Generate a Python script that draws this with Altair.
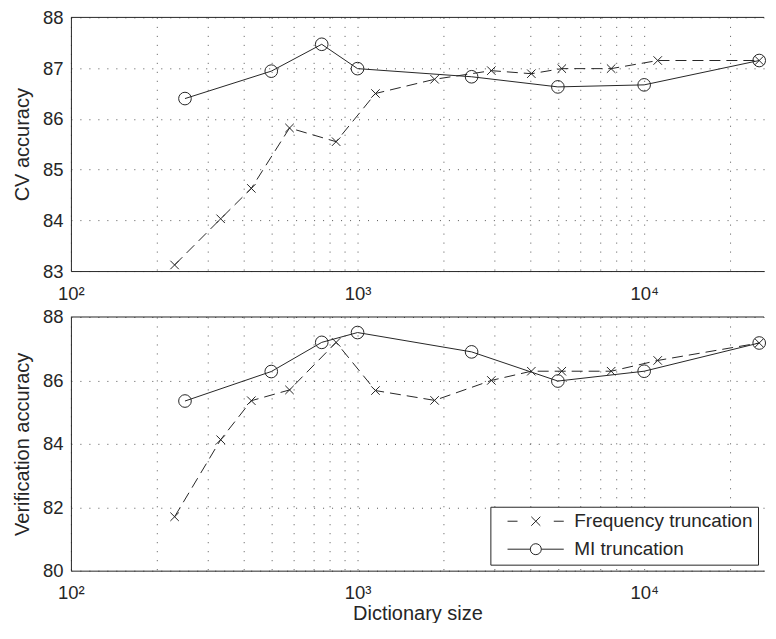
import altair as alt
import pandas as pd

FONT = "Liberation Sans"
INK = "#262626"

# ---- data ----
freq_sizes = [230, 333, 426, 579, 842, 1155, 1857, 2930, 4040, 5160, 7670, 11150, 25200]
mi_sizes = [250, 500, 750, 1000, 2500, 5000, 10000, 25200]

cv_freq = [83.12, 84.03, 84.63, 85.82, 85.55, 86.50, 86.78, 86.95, 86.89, 86.99, 86.99, 87.15, 87.15]
cv_mi = [86.40, 86.94, 87.47, 86.99, 86.83, 86.63, 86.67, 87.15]

ver_freq = [81.70, 84.13, 85.36, 85.70, 87.20, 85.68, 85.37, 86.00, 86.29, 86.29, 86.29, 86.63, 87.18]
ver_mi = [85.35, 86.28, 87.20, 87.51, 86.90, 85.98, 86.29, 87.18]

series_names = ["Frequency truncation", "MI truncation"]
x_limits = [100, 26190]
grid_sizes = [100, 200, 300, 400, 500, 600, 700, 800, 900,
              1000, 2000, 3000, 4000, 5000, 6000, 7000, 8000, 9000,
              10000, 20000]
cv_ticks = [83, 84, 85, 86, 87, 88]
ver_ticks = [80, 82, 84, 86, 88]

# ---- marker / legend symbol shapes ----
X_SHAPE = "M-1,-1L1,1M-1,1L1,-1"


def circle_path(cx, r):
    k = 0.5523 * r
    return (f"M{cx + r},0C{cx + r},{k} {cx + k},{r} {cx},{r}"
            f"C{cx - k},{r} {cx - r},{k} {cx - r},0"
            f"C{cx - r},{-k} {cx - k},{-r} {cx},{-r}"
            f"C{cx + k},{-r} {cx + r},{-k} {cx + r},0Z")


LEG_FREQ = "M0.54,0H2.54M9.8,0H11.8M5.3,-0.9L7.1,0.9M5.3,0.9L7.1,-0.9"
LEG_MI = "M0.54,0H5.1M7.3,0H11.8" + circle_path(6.2, 1.1)

label_expr = ("datum.value == 100 ? '10\u00b2' : datum.value == 1000 ? '10\u00b3' : "
              "datum.value == 10000 ? '10\u2074' : ''")

PANEL_W = 694
PANEL_H = 254
GAP = 46


def panel(freq_vals, mi_vals, y_ticks, y_title, x_title, with_legend):
    f = pd.DataFrame({"size": freq_sizes, "acc": freq_vals, "series": series_names[0]})
    m = pd.DataFrame({"size": mi_sizes, "acc": mi_vals, "series": series_names[1]})
    x = alt.X("size:Q",
              scale=alt.Scale(type="log", domain=x_limits, nice=False),
              axis=alt.Axis(values=grid_sizes, labelExpr=label_expr, title=x_title,
                            labelFlush=False))
    y = alt.Y("acc:Q",
              scale=alt.Scale(domain=[y_ticks[0], y_ticks[-1]], nice=False, zero=False),
              axis=alt.Axis(values=y_ticks, title=y_title, labelFlush=False))
    base_f = alt.Chart(f).encode(x=x, y=y)
    base_m = alt.Chart(m).encode(x=x, y=y)
    line_f = base_f.mark_line(color=INK, strokeWidth=1, strokeDash=[11, 6])
    pts_f = base_f.mark_point(shape=X_SHAPE, size=72, filled=False, color=INK,
                              strokeWidth=1, opacity=1)
    line_m = base_m.mark_line(color=INK, strokeWidth=1)
    pts_m = base_m.mark_point(shape="circle", size=160, filled=False, color=INK,
                              strokeWidth=1, opacity=1)
    top = alt.Chart(pd.DataFrame({"acc": [y_ticks[-1]]})).mark_rule(
        color=INK, strokeWidth=1).encode(y=y)
    layers = [line_f, line_m, pts_f, pts_m, top]
    if with_legend:
        leg = alt.Chart(f).mark_point(filled=False, color=INK, strokeWidth=1, opacity=1).encode(
            x=x, y=y,
            shape=alt.Shape("series:N",
                            scale=alt.Scale(domain=series_names, range=[LEG_FREQ, LEG_MI]),
                            legend=alt.Legend(title=None, orient="none",
                                              legendX=420, legendY=PANEL_H + GAP + 190,
                                              fillColor="white", strokeColor=INK, padding=5,
                                              labelFont=FONT, labelFontSize=19, labelColor=INK,
                                              labelLimit=0,
                                              symbolSize=100, symbolStrokeWidth=1,
                                              symbolStrokeColor=INK, symbolFillColor="transparent",
                                              symbolOpacity=1, labelOffset=60, rowPadding=8,
                                              cornerRadius=0))
        ).transform_filter("false")
        layers.append(leg)
    return alt.layer(*layers).properties(width=PANEL_W, height=PANEL_H)


top_panel = panel(cv_freq, cv_mi, cv_ticks, "CV accuracy", None, False)
bottom_panel = panel(ver_freq, ver_mi, ver_ticks, "Verification accuracy", "Dictionary size", True)

chart = alt.vconcat(top_panel, bottom_panel, spacing=GAP, bounds="flush").properties(
    padding={"left": 4, "top": 0, "right": 0, "bottom": -1}
).configure_view(stroke=None).configure_axis(
    labelFont=FONT, labelFontSize=18.5, labelColor=INK,
    titleFont=FONT, titleFontSize=20, titleFontWeight="normal", titleColor=INK,
    ticks=False, domainColor=INK, domainWidth=1,
    gridColor="#555555", gridDash=[1, 8], gridWidth=1, labelOverlap=False
).configure_axisX(labelPadding=13, titlePadding=1).configure_axisY(
    labelPadding=8, titlePadding=10)

chart.save("out.html", embed_options={"renderer": "svg", "actions": False})
